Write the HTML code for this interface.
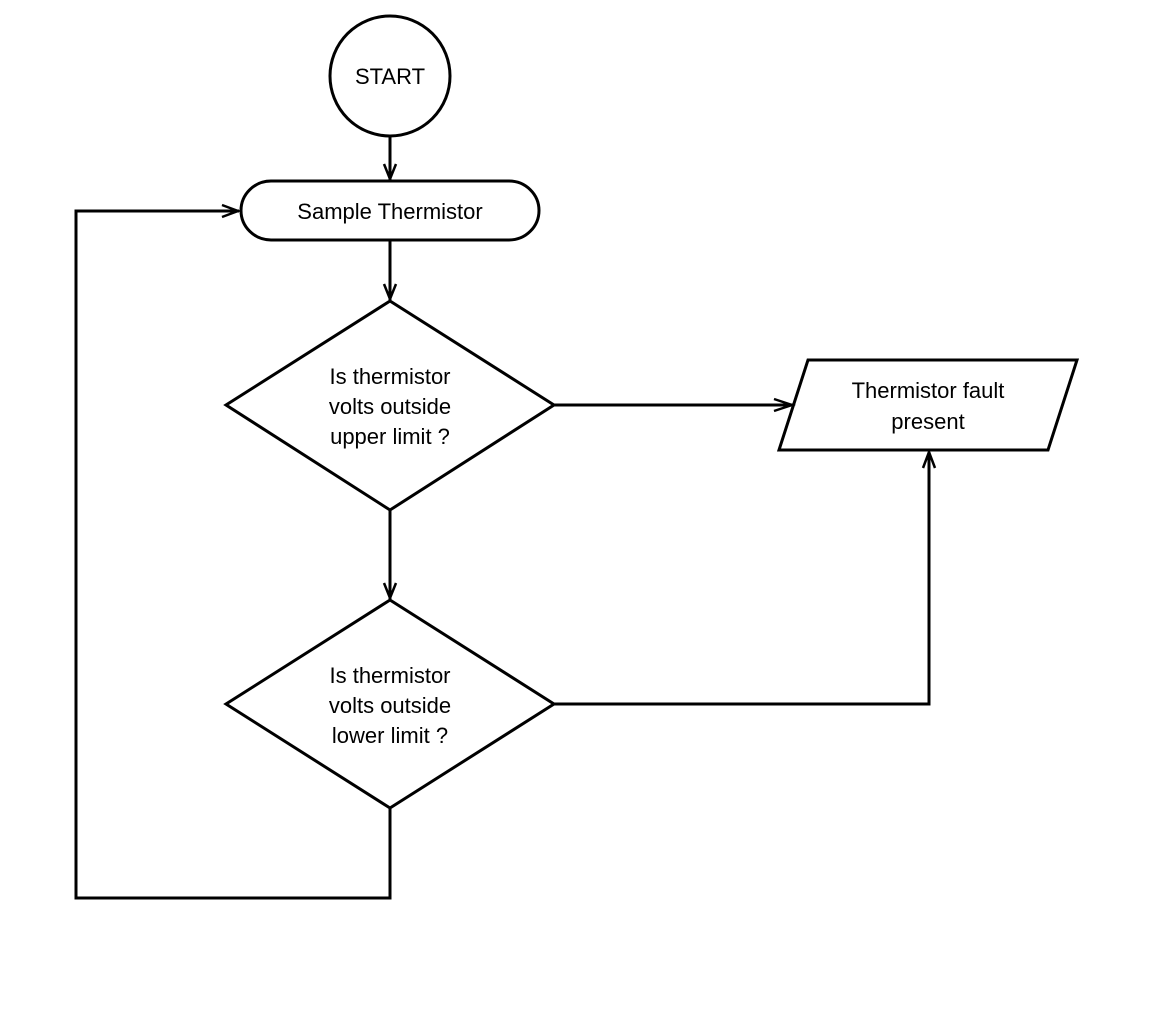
<!DOCTYPE html>
<html><head><style>body{margin:0;background:#fff}</style></head><body>
<svg width="1152" height="1010" xmlns="http://www.w3.org/2000/svg" font-family="Liberation Sans, sans-serif" font-size="22" text-anchor="middle">
<rect width="1152" height="1010" fill="#fff"/>
<g fill="none" stroke="#000" stroke-width="3">
<circle cx="390" cy="76" r="60"/>
<rect x="241" y="181" width="298" height="59" rx="30"/>
<polygon points="390,301 554,405 390,510 226,405"/>
<polygon points="390,600 554,704 390,808 226,704"/>
<polygon points="808,360 1077,360 1048,450 779,450"/>
<line x1="390" y1="136" x2="390" y2="180"/>
<line x1="390" y1="241" x2="390" y2="300"/>
<line x1="390" y1="510" x2="390" y2="599"/>
<polyline points="390,808 390,898 76,898 76,211 239,211"/>
<line x1="554" y1="405" x2="793" y2="405"/>
<polyline points="554,704 929,704 929,452"/>
<g stroke-width="2.5">
<polyline points="384,164 390,179 396,164"/>
<polyline points="384,284 390,299 396,284"/>
<polyline points="384,583 390,598 396,583"/>
<polyline points="222,205 238,211 222,217"/>
<polyline points="774,399 792,405 774,411"/>
<polyline points="923,468 929,452 935,468"/>
</g>
</g>
<g fill="#000">
<text x="390" y="84">START</text>
<text x="390" y="219">Sample Thermistor</text>
<text x="390" y="384">Is thermistor</text>
<text x="390" y="414">volts outside</text>
<text x="390" y="444">upper limit ?</text>
<text x="390" y="683">Is thermistor</text>
<text x="390" y="713">volts outside</text>
<text x="390" y="743">lower limit ?</text>
<text x="928" y="398">Thermistor fault</text>
<text x="928" y="429">present</text>
</g>
</svg>
</body></html>
